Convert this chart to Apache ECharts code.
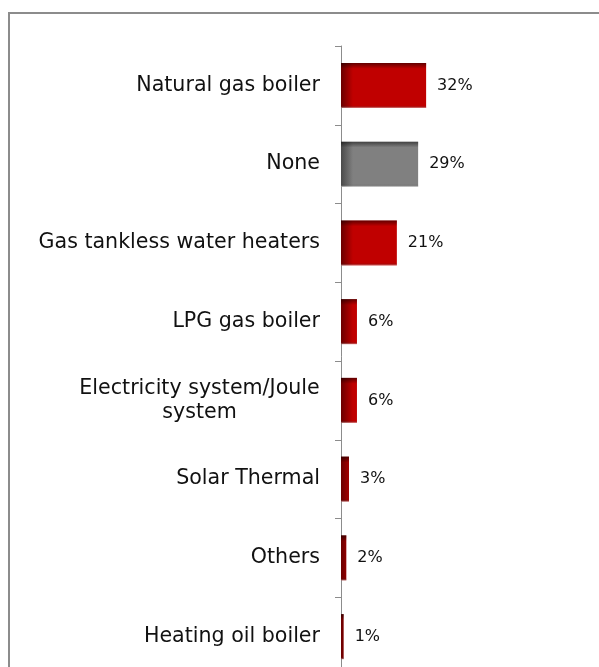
<!DOCTYPE html>
<html>
<head>
<meta charset="utf-8">
<script src="https://cdn.jsdelivr.net/npm/echarts@6/dist/echarts.min.js"></script>
<style>
html,body{margin:0;padding:0;background:#fff;overflow:hidden;}
#chart{width:599px;height:667px;}
</style>
</head>
<body>
<div id="chart"></div>
<script>
// categories and values (top to bottom)
var categories = ['Natural gas boiler', 'None', 'Gas tankless water heaters', 'LPG gas boiler',
    'Electricity system/Joule system', 'Solar Thermal', 'Others', 'Heating oil boiler'];
var values = [32, 29, 21, 6, 6, 3, 2, 1];

var labelSize = 20.6;
var myChart = echarts.init(document.getElementById('chart'));

// width of the first line of the wrapped label, so the 2 lines can be centred
var ctx = document.createElement('canvas').getContext('2d');
ctx.font = labelSize + 'px "DejaVu Sans"';
var wrapWidth = Math.ceil(ctx.measureText('Electricity system/Joule').width);

function leftShade(dark, base) {
    return new echarts.graphic.LinearGradient(341, 0, 353, 0, [
        {offset: 0, color: dark},
        {offset: 1, color: base}
    ], true);
}

var barData = values.map(function (v, i) {
    var grey = categories[i] === 'None';
    return {
        value: v,
        itemStyle: {color: grey ? leftShade('#4a4a4a', '#808080') : leftShade('#6a0000', '#c00000')}
    };
});

var option = {
    animation: false,
    graphic: [{
        type: 'rect',
        shape: {x: 9, y: 13, width: 700, height: 700},
        style: {fill: 'none', stroke: '#8c8c8c', lineWidth: 2},
        silent: true
    }],
    grid: {left: 341, top: 46, width: 266, height: 630, outerBoundsMode: 'none', containLabel: false},
    xAxis: {
        type: 'value', min: 0, max: 100, show: false
    },
    yAxis: {
        type: 'category',
        inverse: true,
        data: categories,
        axisLine: {show: true, lineStyle: {color: '#8c8c8c', width: 1}},
        axisTick: {show: true, length: 6, lineStyle: {color: '#8c8c8c'}},
        axisLabel: {
            margin: 21,
            fontFamily: 'DejaVu Sans',
            fontSize: labelSize,
            color: '#111',
            formatter: function (name) {
                if (name === 'Electricity system/Joule system') {
                    return '{c|Electricity system/Joule}\n{c|system}';
                }
                return name;
            },
            rich: {
                c: {width: wrapWidth, align: 'center', fontFamily: 'DejaVu Sans', fontSize: labelSize, color: '#111', lineHeight: 24}
            }
        }
    },
    series: [{
        type: 'bar',
        data: barData,
        barWidth: 45,
        label: {
            show: true,
            position: 'right',
            distance: 11,
            formatter: '{c}%',
            fontFamily: 'DejaVu Sans',
            fontSize: 16,
            color: '#111'
        }
    }, {
        type: 'bar',
        data: values,
        barWidth: 45,
        barGap: '-100%',
        silent: true,
        itemStyle: {
            color: new echarts.graphic.LinearGradient(0, 0, 0, 1, [
                {offset: 0, color: 'rgba(0,0,0,0.5)'},
                {offset: 0.13, color: 'rgba(0,0,0,0)'},
                {offset: 0.95, color: 'rgba(0,0,0,0)'},
                {offset: 1, color: 'rgba(255,255,255,0.5)'}
            ])
        }
    }]
};
myChart.setOption(option);
</script>
</body>
</html>
